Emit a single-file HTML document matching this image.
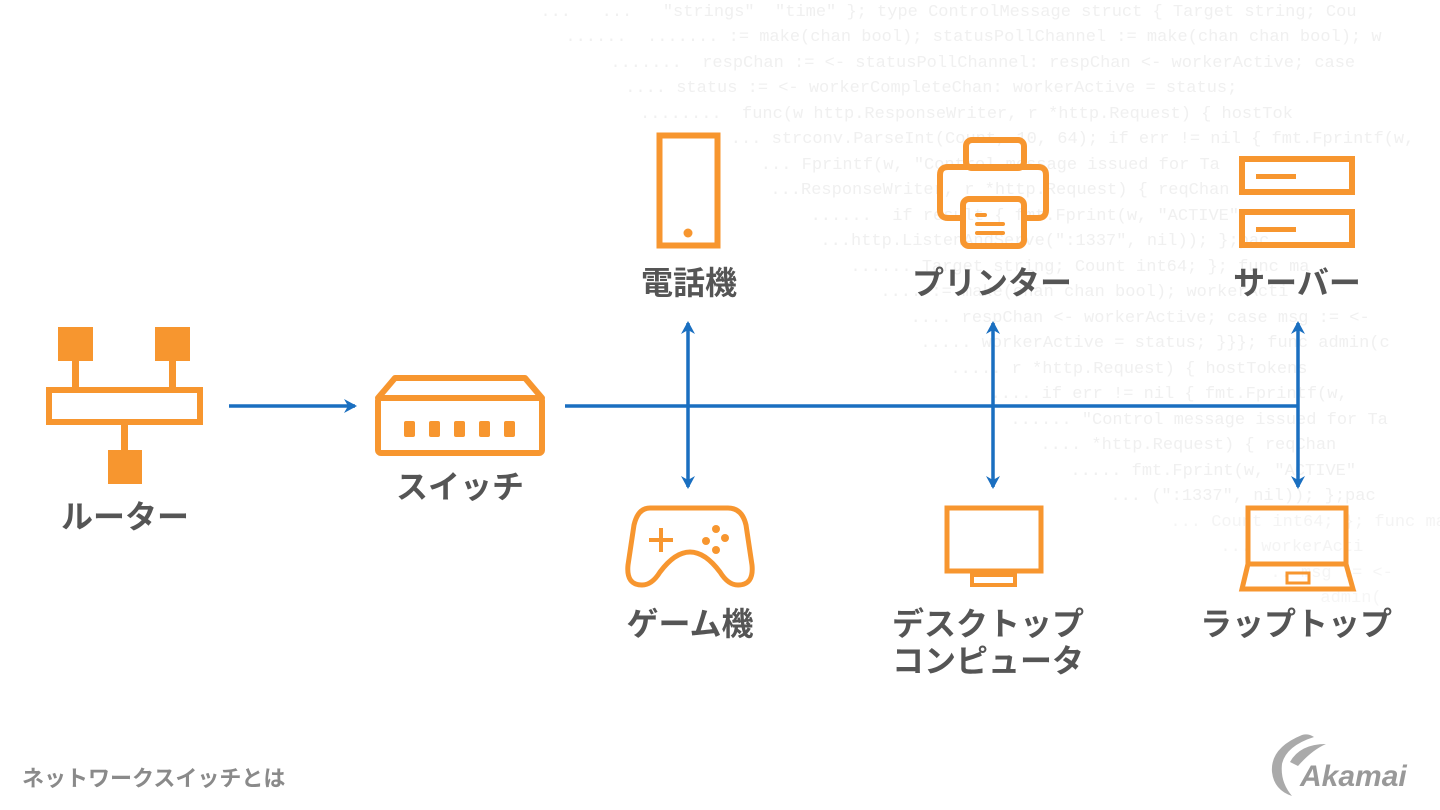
<!DOCTYPE html>
<html><head><meta charset="utf-8"><style>
body{margin:0;width:1440px;height:810px;background:#fff;overflow:hidden;position:relative;font-family:"Liberation Sans","Noto Sans CJK JP",sans-serif}
.code{position:absolute;font-family:"Liberation Mono",monospace;font-size:17px;color:#f0f0f0;white-space:pre;line-height:25.5px}
.lbl{position:absolute;font-weight:bold;font-size:32px;color:#555;text-align:center;transform:translateX(-50%);white-space:nowrap;line-height:37px}
</style></head><body>
<div class="code" style="left:520px;top:0px">  ...   ...   "strings"  "time" }; type ControlMessage struct { Target string; Cou</div>
<div class="code" style="left:545px;top:25px">  ......  ....... := make(chan bool); statusPollChannel := make(chan chan bool); w</div>
<div class="code" style="left:590px;top:51px">  .......  respChan := &lt;- statusPollChannel: respChan &lt;- workerActive; case</div>
<div class="code" style="left:615px;top:76px"> .... status := &lt;- workerCompleteChan: workerActive = status;</div>
<div class="code" style="left:640px;top:102px">........  func(w http.ResponseWriter, r *http.Request) { hostTok</div>
<div class="code" style="left:690px;top:127px">    ... strconv.ParseInt(Count, 10, 64); if err != nil { fmt.Fprintf(w,</div>
<div class="code" style="left:720px;top:153px">    ... Fprintf(w, "Control message issued for Ta</div>
<div class="code" style="left:750px;top:178px">  ...ResponseWriter, r *http.Request) { reqChan</div>
<div class="code" style="left:780px;top:204px">   ......  if result { fmt.Fprint(w, "ACTIVE"</div>
<div class="code" style="left:800px;top:229px">  ...http.ListenAndServe(":1337", nil)); };pac</div>
<div class="code" style="left:830px;top:255px">  ...... Target string; Count int64; }; func ma</div>
<div class="code" style="left:860px;top:280px">  .... := make(chan chan bool); workerActi</div>
<div class="code" style="left:880px;top:306px">   .... respChan &lt;- workerActive; case msg := &lt;-</div>
<div class="code" style="left:900px;top:331px">  ..... workerActive = status; }}}; func admin(c</div>
<div class="code" style="left:930px;top:357px">  ..... r *http.Request) { hostTokens</div>
<div class="code" style="left:960px;top:382px">   .... if err != nil { fmt.Fprintf(w,</div>
<div class="code" style="left:990px;top:408px">  ...... "Control message issued for Ta</div>
<div class="code" style="left:1020px;top:433px">  .... *http.Request) { reqChan</div>
<div class="code" style="left:1050px;top:459px">  ..... fmt.Fprint(w, "ACTIVE"</div>
<div class="code" style="left:1090px;top:484px">  ... (":1337", nil)); };pac</div>
<div class="code" style="left:1150px;top:510px;color:#f4f4f4">  ... Count int64; }; func ma</div>
<div class="code" style="left:1200px;top:535px;color:#f4f4f4">  ... workerActi</div>
<div class="code" style="left:1250px;top:561px;color:#f5f5f5">  .. msg := &lt;-</div>
<div class="code" style="left:1300px;top:586px;color:#f6f6f6">  admin(</div>

<svg width="1440" height="810" style="position:absolute;left:0;top:0">
<defs><marker id="ah" markerWidth="14" markerHeight="14" refX="11" refY="7" orient="auto-start-reverse" markerUnits="userSpaceOnUse"><path d="M0,0 L13,7 L0,14 L4,7 Z" fill="#1a6fc0"/></marker></defs>
<g fill="#f7962f" stroke="none">
<rect x="58" y="327" width="35" height="34"/><rect x="155" y="327" width="35" height="34"/>
<rect x="72" y="361" width="7" height="28"/><rect x="169" y="361" width="7" height="28"/>
<rect x="121" y="423" width="7" height="28"/><rect x="108" y="450" width="34" height="34"/>
</g>
<g fill="none" stroke="#f7962f" stroke-width="6">
<rect x="49" y="390" width="151" height="32"/>
<path d="M378,398 L395,378 L525,378 L542,398 Z" stroke-linejoin="round"/>
<rect x="378" y="398" width="164" height="55" rx="3"/>
<rect x="659.5" y="135.5" width="58" height="110"/>
<rect x="966" y="140" width="58" height="28" rx="6"/>
<path d="M962,218 L948,218 Q940,218 940,210 L940,175 Q940,167 948,167 L1038,167 Q1046,167 1046,175 L1046,210 Q1046,218 1038,218 L1025,218"/>
<rect x="963" y="199" width="61" height="47" rx="6"/>
<rect x="1242" y="159" width="110" height="33"/>
<rect x="1242" y="212" width="110" height="33"/>
<path d="M650,508 L728,508 Q742,508 746,525 L752,565 Q754,585 738,585 Q728,585 720,572 Q705,552 690,552 Q675,552 660,572 Q652,585 642,585 Q626,585 628,565 L634,525 Q638,508 650,508 Z" stroke-width="5"/>
<rect x="947" y="508" width="94" height="63" stroke-width="5"/>
<rect x="972" y="575" width="43" height="10" stroke-width="4"/>
<rect x="1248" y="508" width="98" height="56" stroke-width="5"/>
<path d="M1248,564 L1242,589 L1353,589 L1346,564" stroke-width="5"/>
<rect x="1287" y="573" width="22" height="10" stroke-width="3"/>
</g>
<g fill="#f7962f">
<rect x="404" y="421" width="11" height="16" rx="2"/><rect x="429" y="421" width="11" height="16" rx="2"/><rect x="454" y="421" width="11" height="16" rx="2"/><rect x="479" y="421" width="11" height="16" rx="2"/><rect x="504" y="421" width="11" height="16" rx="2"/>
<circle cx="688" cy="233" r="4.5"/>
<rect x="975" y="213" width="12" height="4" rx="2"/><rect x="975" y="222" width="30" height="4" rx="2"/><rect x="975" y="231" width="30" height="4" rx="2"/>
<rect x="1256" y="174" width="40" height="5"/><rect x="1256" y="227" width="40" height="5"/>
<rect x="649" y="538" width="24" height="4"/><rect x="659" y="528" width="4" height="24"/>
<circle cx="716" cy="529" r="4"/><circle cx="725" cy="538" r="4"/><circle cx="706" cy="541" r="4"/><circle cx="716" cy="550" r="4"/>
<rect x="983" y="571" width="20" height="5"/>
</g>
<g stroke="#1a6fc0" stroke-width="3.5" fill="none">
<line x1="229" y1="406" x2="355" y2="406" marker-end="url(#ah)"/>
<line x1="565" y1="406" x2="1298" y2="406"/>
<line x1="688" y1="323" x2="688" y2="487" marker-start="url(#ah)" marker-end="url(#ah)"/>
<line x1="993" y1="323" x2="993" y2="487" marker-start="url(#ah)" marker-end="url(#ah)"/>
<line x1="1298" y1="323" x2="1298" y2="487" marker-start="url(#ah)" marker-end="url(#ah)"/>
</g>
<path d="M1302,735 Q1270,748 1272,772 Q1274,790 1292,796 Q1280,782 1282,764 Q1286,746 1314,737 Q1308,733 1302,735 Z" fill="#aaa"/>
<path d="M1290,762 Q1300,744 1326,744 Q1312,750 1298,766 Z" fill="#aaa"/>
<text x="1300" y="786" font-family="Liberation Sans,sans-serif" font-size="30" font-weight="bold" font-style="italic" fill="#999">Akamai</text>
</svg>
<div class="lbl" style="left:125px;top:499px">ルーター</div>
<div class="lbl" style="left:460px;top:469px">スイッチ</div>
<div class="lbl" style="left:689px;top:265px">電話機</div>
<div class="lbl" style="left:992px;top:265px">プリンター</div>
<div class="lbl" style="left:1297px;top:265px">サーバー</div>
<div class="lbl" style="left:690px;top:606px">ゲーム機</div>
<div class="lbl" style="left:988px;top:606px">デスクトップ<br>コンピュータ</div>
<div class="lbl" style="left:1296px;top:606px">ラップトップ</div>
<div style="position:absolute;left:22px;top:761px;font-size:22px;font-weight:bold;color:#8a8a8a">ネットワークスイッチとは</div>
</body></html>
